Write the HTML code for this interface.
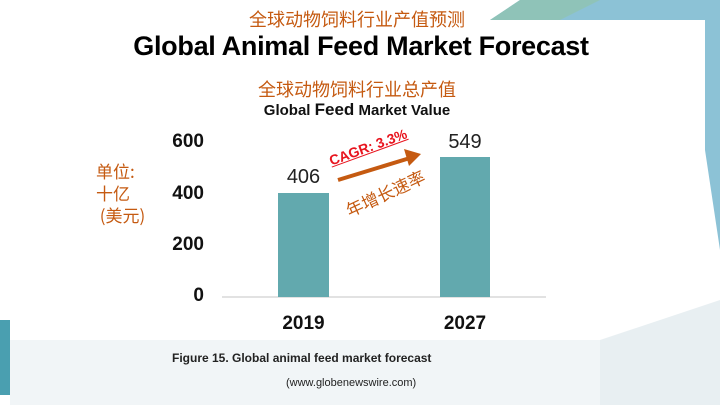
<!DOCTYPE html>
<html><head><meta charset="utf-8"><style>
body{margin:0;width:720px;height:405px;overflow:hidden;background:#fff;font-family:"Liberation Sans","Noto Sans CJK SC",sans-serif;position:relative}
.a{position:absolute;white-space:nowrap}
.zh{color:#c55a11;font-family:"Noto Sans CJK SC",sans-serif}
.yl{font-weight:bold;font-size:19px;color:#111;text-align:right;width:50px;left:154px}
</style></head><body>
<svg class="a" style="left:0;top:0" width="720" height="405">
<polygon points="490,20 520,0 720,0 720,250 705,150 705,20" fill="#6fb3cc" opacity="0.8"/>
<polygon points="490,20 520,0 600,0 560,20" fill="#8fc3b8"/>
<polygon points="0,320 10,320 10,395 0,395" fill="#4a9fb0"/>
<polygon points="10,340 720,340 720,405 10,405" fill="#f1f5f7"/>
<polygon points="600,340 720,300 720,405 600,405" fill="#e8eff2"/>
<line x1="222" y1="297" x2="546" y2="297" stroke="#d9d9d9" stroke-width="1.5"/>
<rect x="278" y="193" width="51" height="104" fill="#62a9ae"/>
<rect x="440" y="157" width="50" height="140" fill="#62a9ae"/>
<line x1="338" y1="180" x2="410" y2="158" stroke="#c55a11" stroke-width="4"/>
<polygon points="421,154 404,149 409,166" fill="#c55a11"/>
</svg>
<div class="a zh" style="left:0;width:714px;text-align:center;top:6px;font-size:18px">全球动物饲料行业产值预测</div>
<div class="a" style="left:0;width:722px;text-align:center;top:31px;font-size:27px;font-weight:bold;color:#000;letter-spacing:-0.3px">Global Animal Feed Market Forecast</div>
<div class="a zh" style="left:0;width:714px;text-align:center;top:76px;font-size:18px">全球动物饲料行业总产值</div>
<div class="a" style="left:0;width:714px;text-align:center;top:100px;font-size:15px;font-weight:bold;color:#111">Global <span style="font-size:17px">Feed</span> Market Value</div>
<div class="a yl" style="top:131px">600</div>
<div class="a yl" style="top:183px">400</div>
<div class="a yl" style="top:234px">200</div>
<div class="a yl" style="top:285px">0</div>
<div class="a zh" style="left:96px;top:160px;font-size:17px;line-height:22px">单位:<br>十亿<br>&nbsp;(美元)</div>
<div class="a" style="left:278px;width:51px;text-align:center;top:166px;font-size:20px;color:#222">406</div>
<div class="a" style="left:440px;width:50px;text-align:center;top:131px;font-size:20px;color:#222">549</div>
<div class="a" style="left:278px;width:51px;text-align:center;top:313px;font-size:19px;font-weight:bold;color:#111">2019</div>
<div class="a" style="left:440px;width:50px;text-align:center;top:313px;font-size:19px;font-weight:bold;color:#111">2027</div>
<div class="a" style="left:318px;width:100px;text-align:center;top:139px;font-size:14px;font-weight:bold;color:#e8141e;text-decoration:underline;transform:rotate(-20deg);transform-origin:center">CAGR: 3.3%</div>
<div class="a zh" style="left:335px;width:100px;text-align:center;top:180px;font-size:17px;transform:rotate(-25deg);transform-origin:center">年增长速率</div>
<div class="a" style="left:172px;top:351px;font-size:12px;font-weight:bold;color:#222">Figure 15. Global animal feed market forecast</div>
<div class="a" style="left:286px;top:377px;font-size:11px;color:#222">(www.globenewswire.com)</div>
</body></html>
